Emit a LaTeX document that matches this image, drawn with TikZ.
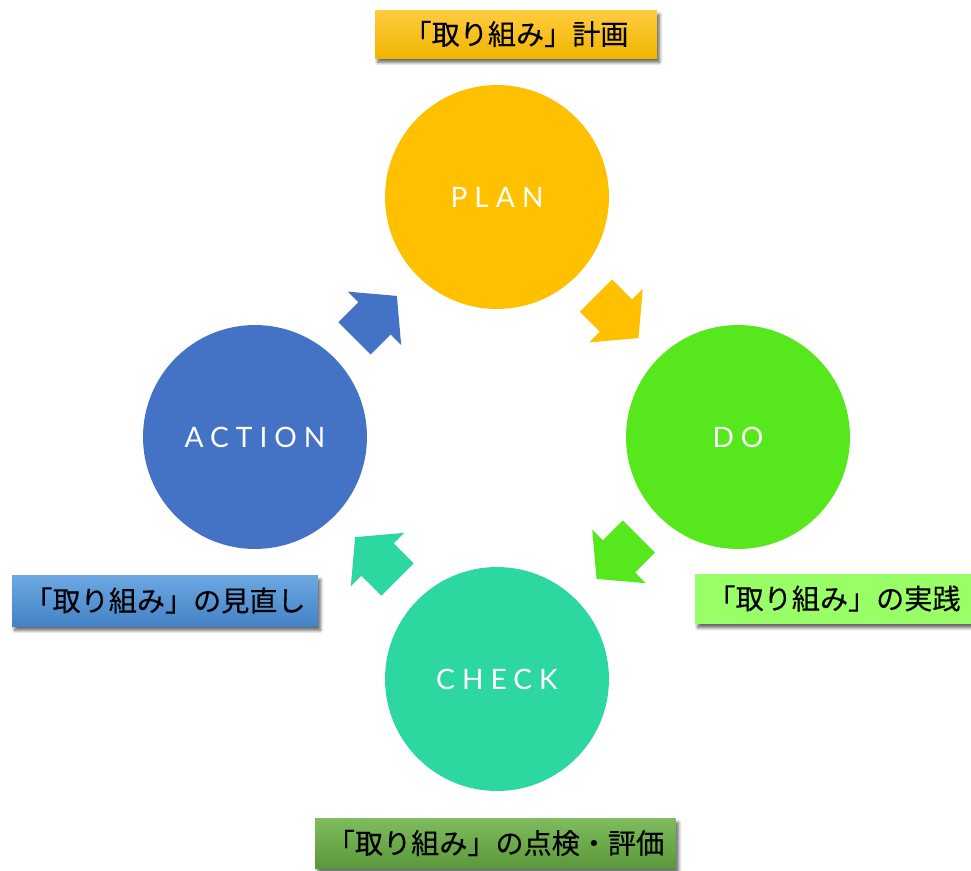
\documentclass[tikz,border=0pt]{standalone}
\usepackage{fontspec}
\newfontfamily\jpfont[FakeBold=0.3]{Noto Sans CJK JP}
\newfontfamily\cyclefont[LetterSpace=25]{Lato}
\usetikzlibrary{shapes.arrows,shadows.blur,calc}
\definecolor{plangold}{HTML}{FFC000}
\definecolor{dolime}{HTML}{56E81C}
\definecolor{checkteal}{HTML}{2DD7A0}
\definecolor{actblue}{HTML}{4472C4}
\tikzset{
  phase/.style={circle,minimum size=4.48cm,inner sep=0pt,text=white,font=\cyclefont\fontsize{16}{18}\selectfont},
  flow/.style={single arrow,anchor=tail,minimum height=1.2cm,inner xsep=0pt,inner ysep=0.45cm,single arrow head extend=0.3cm,single arrow tip angle=100},
  tag/.style={minimum height=1cm,inner sep=0pt,font=\jpfont\fontsize{16}{19}\selectfont,
    blur shadow={shadow xshift=1.5pt,shadow yshift=-2.5pt,shadow blur steps=6,shadow opacity=60}}
}
\begin{document}
\begin{tikzpicture}[x=0.02cm,y=-0.02cm]
\useasboundingbox (0,0) rectangle (971,870);
\clip (0,0) rectangle (971,870);
% the four phases
\node[phase,fill=plangold] (plan) at (497,197) {PLAN};
\node[phase,fill=dolime] (do) at (738,437) {DO};
\node[phase,fill=checkteal] (check) at (497,679) {CHECK};
\node[phase,fill=actblue] (act) at (255,437) {ACTION};
% block arrows between them
\node[flow,fill=plangold,rotate=-45] (plando) at ($(plan)!0.41!(do)$) {};
\node[flow,fill=dolime,rotate=-135] (docheck) at ($(do)!0.41!(check)$) {};
\node[flow,fill=checkteal,rotate=135] (checkact) at ($(check)!0.41!(act)$) {};
\node[flow,fill=actblue,rotate=45] (actplan) at ($(act)!0.41!(plan)$) {};
% captions
\node[tag,minimum width=5.64cm,minimum height=0.96cm,top color={rgb,255:red,255;green,204;blue,64},bottom color={rgb,255:red,240;green,180;blue,0}] (plantag) at (516,34) {「取り組み」計画};
\node[tag,minimum width=5.56cm,fill={rgb,255:red,153;green,255;blue,102}] (dotag) at (834,598.5) {「取り組み」の実践};
\node[tag,minimum width=7.22cm,top color={rgb,255:red,126;green,188;blue,94},bottom color={rgb,255:red,90;green,152;blue,58}] (checktag) at (495.5,843) {「取り組み」の点検・評価};
\node[tag,minimum width=6.12cm,minimum height=1.02cm,top color={rgb,255:red,108;green,168;blue,226},bottom color={rgb,255:red,68;green,130;blue,198}] (acttag) at (165,600.5) {「取り組み」の見直し};
\end{tikzpicture}
\end{document}
